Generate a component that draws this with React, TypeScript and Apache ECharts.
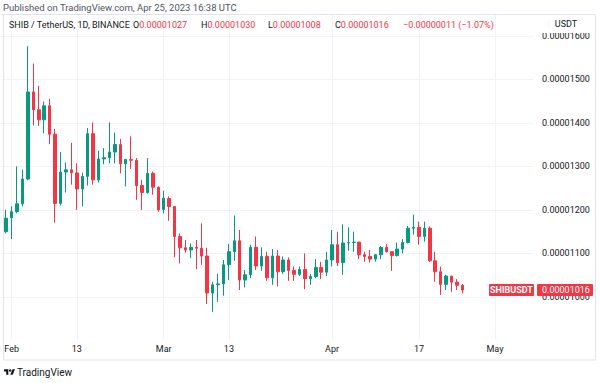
import React, { useEffect, useRef } from 'react';
import * as echarts from 'echarts';

// Prices are written in units of 0.00000001 USDT (1e-8)
const PRICE_UNIT = 1e-8;
const firstCandleDate = '2023-01-31';

const openP = [
  1150, 1182, 1196, 1214, 1271, 1471, 1430, 1407, 1439, 1374,
  1215, 1287, 1292, 1285, 1248, 1277, 1375, 1269, 1317, 1320,
  1333, 1350, 1306, 1316, 1314, 1256, 1240, 1284, 1252, 1201,
  1226, 1208, 1139, 1113, 1108, 1114, 1112, 1094, 1009, 1028,
  1030, 1074, 1104, 1129, 1039, 1051, 1114, 1071, 1093, 1044,
  1094, 1058, 1085, 1061, 1052, 1063, 1042, 1047, 1068, 1057,
  1085, 1120, 1079, 1124, 1125, 1126, 1097, 1093, 1087, 1097,
  1114, 1104, 1095, 1110, 1125, 1158, 1160, 1139, 1158, 1083,
  1058, 1029, 1048, 1034, 1027,
];
const highP = [
  1200, 1208, 1300, 1292, 1576, 1536, 1485, 1449, 1455, 1386,
  1333, 1309, 1354, 1307, 1286, 1388, 1401, 1336, 1342, 1401,
  1378, 1363, 1317, 1369, 1319, 1269, 1319, 1288, 1254, 1244,
  1231, 1208, 1146, 1131, 1123, 1131, 1169, 1113, 1035, 1053,
  1085, 1122, 1187, 1154, 1062, 1120, 1139, 1114, 1104, 1110,
  1108, 1093, 1091, 1070, 1070, 1100, 1053, 1087, 1081, 1104,
  1154, 1150, 1167, 1160, 1150, 1127, 1104, 1108, 1098, 1117,
  1122, 1104, 1125, 1133, 1163, 1189, 1173, 1173, 1162, 1104,
  1070, 1051, 1048, 1041, 1030,
];
const lowP = [
  1146, 1133, 1192, 1208, 1268, 1394, 1393, 1376, 1351, 1171,
  1210, 1240, 1258, 1200, 1208, 1256, 1258, 1263, 1305, 1307,
  1307, 1284, 1254, 1294, 1223, 1200, 1237, 1235, 1196, 1192,
  1175, 1091, 1077, 1102, 1089, 1064, 1074, 984, 966, 989,
  1003, 1039, 1083, 1016, 1022, 1043, 1062, 1060, 1037, 1028,
  1024, 1053, 1037, 1037, 1048, 1018, 1028, 1043, 1041, 1048,
  1070, 1071, 1051, 1106, 1104, 1087, 1081, 1079, 1081, 1087,
  1102, 1060, 1093, 1100, 1123, 1143, 1120, 1127, 1081, 1035,
  1005, 1016, 1012, 1016, 1008,
];
const closeP = [
  1181, 1196, 1214, 1271, 1471, 1430, 1407, 1439, 1374, 1215,
  1287, 1292, 1285, 1248, 1277, 1375, 1269, 1317, 1320, 1333,
  1350, 1306, 1316, 1314, 1256, 1240, 1284, 1252, 1200, 1227,
  1208, 1139, 1113, 1108, 1114, 1112, 1094, 1009, 1028, 1030,
  1074, 1104, 1129, 1039, 1051, 1114, 1071, 1093, 1044, 1094,
  1058, 1085, 1061, 1052, 1063, 1042, 1047, 1068, 1057, 1085,
  1120, 1079, 1124, 1125, 1126, 1097, 1093, 1087, 1097, 1114,
  1104, 1095, 1110, 1125, 1158, 1160, 1139, 1158, 1083, 1058,
  1029, 1048, 1034, 1027, 1016,
];

// Time axis range and labels
const axisStartDate = '2023-01-30';
const axisEndDate = '2023-05-08';
const tickDates = ['2023-02-01', '2023-02-13', '2023-03-01', '2023-03-13', '2023-04-01', '2023-04-17', '2023-05-01'];
const tickLabels = ['Feb', '13', 'Mar', '13', 'Apr', '17', 'May'];

// Price axis
const priceMin = 0.000009;
const priceMax = 0.0000165;
const priceStep = 0.000001;

const symbolTitle = 'SHIB / TetherUS, 1D, BINANCE';
const tickerName = 'SHIBUSDT';
const quoteCurrency = 'USDT';
const publishedText = 'Published on TradingView.com, Apr 25, 2023 16:38 UTC';

const UP = '#089981';
const DOWN = '#F23645';
const TEXT = '#131722';
const GRID = '#f0f3fa';
const FONT = 'Roboto, "Noto Sans", sans-serif';

const DAY = 86400000;
function dayList(start: string, end: string): string[] {
  const out: string[] = [];
  let t = Date.parse(start + 'T00:00:00Z');
  const e = Date.parse(end + 'T00:00:00Z');
  while (t <= e) {
    out.push(new Date(t).toISOString().slice(0, 10));
    t += DAY;
  }
  return out;
}

const fmt = (v: number) => v.toFixed(8);

export default function App() {
  const ref = useRef<HTMLDivElement>(null);

  useEffect(() => {
    if (!ref.current) return;
    const chart = echarts.init(ref.current, undefined, { renderer: 'svg' });

    const categories = dayList(axisStartDate, axisEndDate);
    const candleDates = dayList(firstCandleDate, axisEndDate).slice(0, openP.length);
    const candles = candleDates.map((d, i) => [
      d,
      openP[i] * PRICE_UNIT,
      closeP[i] * PRICE_UNIT,
      lowP[i] * PRICE_UNIT,
      highP[i] * PRICE_UNIT,
    ]);

    const n = openP.length;
    const lastO = openP[n - 1] * PRICE_UNIT;
    const lastH = highP[n - 1] * PRICE_UNIT;
    const lastL = lowP[n - 1] * PRICE_UNIT;
    const lastC = closeP[n - 1] * PRICE_UNIT;
    const prevC = closeP[n - 2] * PRICE_UNIT;
    const chg = lastC - prevC;
    const chgPct = (chg / prevC) * 100;
    const sign = chg < 0 ? '\u2212' : '+';
    const chgText = `${sign}${fmt(Math.abs(chg))} (${sign}${Math.abs(chgPct).toFixed(2)}%)`;

    const isTick = (_i: number, v: string) => tickDates.indexOf(v) >= 0;

    chart.setOption({
      animation: false,
      backgroundColor: '#ffffff',
      grid: { left: 0.8, right: 67, top: 14, bottom: 42.5, containLabel: false, outerBoundsMode: 'none' },
      xAxis: {
        type: 'category',
        data: categories,
        boundaryGap: false,
        axisLine: { show: false },
        axisTick: { show: false },
        axisLabel: {
          interval: isTick,
          formatter: (v: string) => {
            const k = tickDates.indexOf(v);
            return k >= 0 ? tickLabels[k] : '';
          },
          margin: 4,
          color: TEXT,
          fontSize: 9,
          fontFamily: FONT,
        },
        splitLine: { show: true, interval: isTick, lineStyle: { color: GRID, width: 1 } },
      },
      yAxis: {
        type: 'value',
        position: 'right',
        min: priceMin,
        max: priceMax,
        interval: priceStep,
        axisLine: { show: false },
        axisTick: { show: false },
        axisLabel: {
          margin: 9,
          color: TEXT,
          fontSize: 9,
          fontFamily: FONT,
          formatter: (v: number) => {
            const k = v / priceStep;
            if (Math.abs(k - Math.round(k)) > 1e-6) return '';
            if (Math.abs(v - priceMin) < priceStep / 100) return '';
            return fmt(v);
          },
        },
        splitLine: { show: true, showMinLine: false, lineStyle: { color: GRID, width: 1 } },
      },
      series: [
        {
          type: 'candlestick',
          data: candles,
          encode: { x: 0, y: [1, 2, 3, 4] },
          barWidth: 3,
          itemStyle: {
            color: UP,
            color0: DOWN,
            borderColor: UP,
            borderColor0: DOWN,
            borderWidth: 1,
          },
          markLine: {
            silent: true,
            symbol: ['none', 'none'],
            label: { show: false },
            lineStyle: { color: DOWN, type: [1, 2], width: 1 },
            data: [{ yAxis: lastC }],
          },
        },
      ],
    });

    const py = chart.convertToPixel({ yAxisIndex: 0 }, lastC) as number;

    chart.setOption({
      graphic: [
        {
          type: 'rect',
          z: 50,
          silent: true,
          shape: { x: 3.5, y: 14.5, width: 592, height: 345.5 },
          style: { fill: 'none', stroke: '#e0e3eb', lineWidth: 1 },
        },
        {
          type: 'rect',
          z: 60,
          silent: true,
          shape: { x: 534, y: 15, width: 61, height: 18 },
          style: { fill: '#ffffff' },
        },
        {
          type: 'text',
          z: 61,
          x: 566,
          y: 24,
          style: { text: quoteCurrency, fill: TEXT, fontSize: 9, fontFamily: FONT, align: 'center', verticalAlign: 'middle' },
        },
        {
          type: 'text',
          z: 61,
          x: 3,
          y: 7,
          style: { text: publishedText, fill: '#50535e', fontSize: 9.5, fontFamily: FONT, align: 'left', verticalAlign: 'middle' },
        },
        {
          type: 'text',
          z: 61,
          x: 9,
          y: 25,
          style: { text: symbolTitle, fill: TEXT, fontSize: 9, fontFamily: FONT, align: 'left', verticalAlign: 'middle' },
        },
        ...[
          ['O', lastO, 133],
          ['H', lastH, 201],
          ['L', lastL, 268],
          ['C', lastC, 335],
        ].map(([k, v, x]) => ({
          type: 'text',
          z: 61,
          x: x as number,
          y: 25,
          style: {
            text: `{k|${k}}{v|${fmt(v as number)}}`,
            fontSize: 9,
            fontFamily: FONT,
            verticalAlign: 'middle',
            rich: {
              k: { fill: TEXT, fontSize: 9, fontFamily: FONT },
              v: { fill: DOWN, fontSize: 9, fontFamily: FONT },
            },
          },
        })),
        {
          type: 'text',
          z: 61,
          x: 403,
          y: 25,
          style: { text: chgText, fill: DOWN, fontSize: 9, fontFamily: FONT, align: 'left', verticalAlign: 'middle' },
        },
        {
          type: 'rect',
          z: 70,
          silent: true,
          shape: { x: 489, y: py - 6, width: 45, height: 12, r: 1 },
          style: { fill: DOWN },
        },
        {
          type: 'text',
          z: 71,
          x: 511.5,
          y: py,
          style: { text: tickerName, fill: '#ffffff', fontSize: 9, fontWeight: 'bold', fontFamily: FONT, align: 'center', verticalAlign: 'middle' },
        },
        {
          type: 'rect',
          z: 70,
          silent: true,
          shape: { x: 537, y: py - 6, width: 56, height: 12, r: 1 },
          style: { fill: DOWN },
        },
        {
          type: 'text',
          z: 71,
          x: 542,
          y: py,
          style: { text: fmt(lastC), fill: '#ffffff', fontSize: 9, fontFamily: FONT, align: 'left', verticalAlign: 'middle' },
        },
        {
          type: 'group',
          z: 61,
          x: 4,
          y: 368,
          scaleX: 0.31,
          scaleY: 0.31,
          children: [
            { type: 'polygon', shape: { points: [[14, 22], [7, 22], [7, 11], [0, 11], [0, 4], [14, 4]] }, style: { fill: TEXT } },
            { type: 'polygon', shape: { points: [[28, 22], [20, 22], [27.5, 4], [35.5, 4]] }, style: { fill: TEXT } },
            { type: 'circle', shape: { cx: 20, cy: 8, r: 4 }, style: { fill: TEXT } },
          ],
        },
        {
          type: 'text',
          z: 61,
          x: 17,
          y: 372,
          style: { text: 'TradingView', fill: TEXT, fontSize: 10, fontFamily: FONT, align: 'left', verticalAlign: 'middle' },
        },
      ],
    });

    return () => chart.dispose();
  }, []);

  return (
    <div
      ref={ref}
      style={{ position: 'fixed', left: 0, top: 0, width: 600, height: 383, background: '#ffffff' }}
    />
  );
}
